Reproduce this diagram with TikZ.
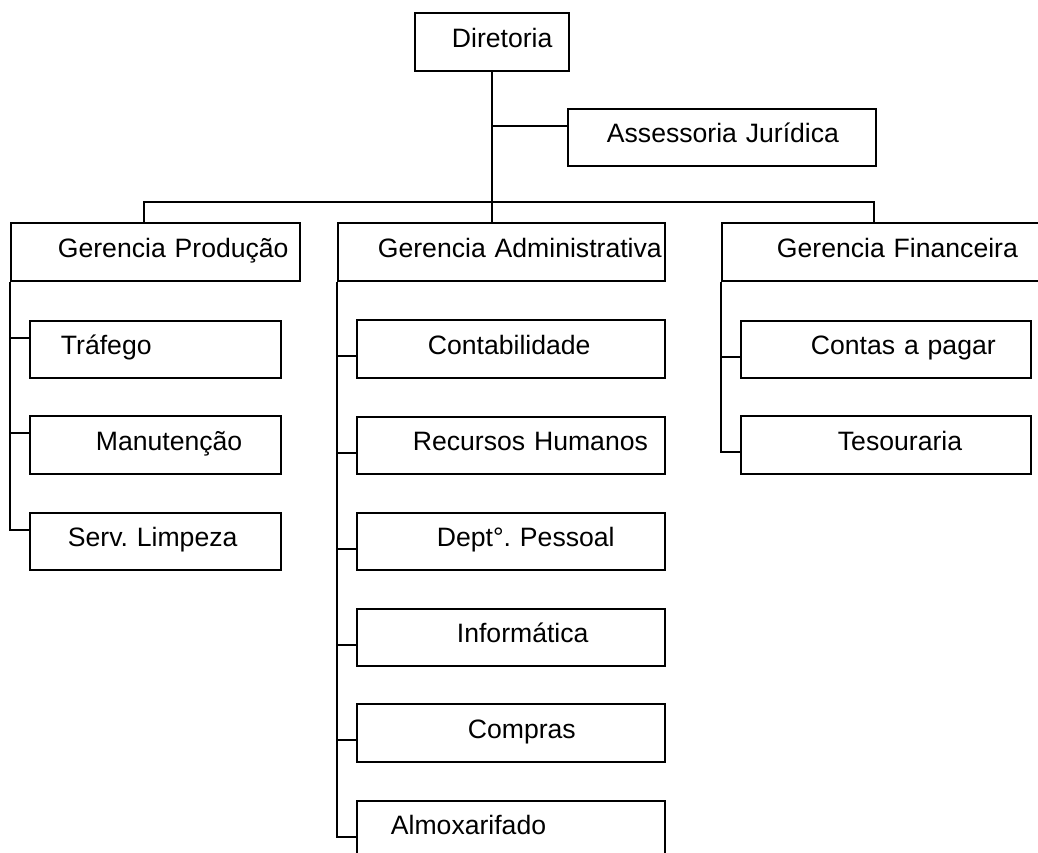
\documentclass[tikz,border=0pt]{standalone}
\usepackage{fontspec}
\setmainfont{Liberation Sans}
\usetikzlibrary{calc}
\frenchspacing

% \orgbox{name}{left}{top}{width}{height}{text indent}{text}
\newcommand\orgbox[7]{%
  \node[unit, minimum width=#4pt, text width=#4pt, minimum height=#5pt]
    (#1) at (#2,#3) {\hspace*{#6pt}#7};}

\begin{document}
\begin{tikzpicture}[x=1pt, y=-1pt,
  unit/.style={draw, line width=1.8pt, rectangle, inner sep=0pt,
    anchor=north west, align=left, text height=20pt, text depth=9pt,
    font=\fontsize{26.6}{30}\selectfont\frenchspacing},
  link/.style={line width=1.8pt}]
  \useasboundingbox (0,0) rectangle (1038,852);

  % top level
  \orgbox{dir}{414}{12}{154}{58}{37}{Diretoria}
  \orgbox{ass}{567}{108}{308}{57}{39}{Assessoria Jurídica}

  % managers
  \orgbox{gp}{10}{222}{289}{58}{47}{Gerencia Produção}
  \orgbox{ga}{337}{222}{327}{58}{40}{Gerencia Administrativa}
  \orgbox{gf}{721}{222}{340}{58}{55}{Gerencia Financeira}

  % production
  \orgbox{traf}{29}{320}{251}{57}{31}{Tráfego}
  \orgbox{manut}{29}{415}{251}{58}{66}{Manutenção}
  \orgbox{serv}{29}{512}{251}{57}{38}{Serv. Limpeza}

  % administration
  \orgbox{cont}{356}{319}{308}{58}{71}{Contabilidade}
  \orgbox{rh}{356}{416}{308}{57}{56}{Recursos Humanos}
  \orgbox{dept}{356}{512}{308}{57}{80}{Dept°. Pessoal}
  \orgbox{info}{356}{608}{308}{57}{100}{Informática}
  \orgbox{comp}{356}{703}{308}{58}{111}{Compras}
  \orgbox{almo}{356}{800}{308}{57}{34}{Almoxarifado}

  % finance
  \orgbox{contas}{740}{320}{290}{57}{70}{Contas a pagar}
  \orgbox{tes}{740}{415}{290}{58}{97}{Tesouraria}

  % bus ends
  \coordinate (busL) at (144,202);
  \coordinate (busR) at (874,202);

  % trunk and staff branch
  \draw[link] (dir.south) -- (dir.south |- ga.north);
  \coordinate (tAss) at ($(ass.north west)+(0,18)$);
  \draw[link] (dir.south |- tAss) -- (tAss);

  % horizontal bus to the managers
  \draw[link] (busL |- gp.north) -- (busL) -- (busR) -- (busR |- gf.north);

  % production spine
  \foreach \n in {traf,manut,serv}
    \coordinate (t\n) at ($(\n.north west)+(0,18)$);
  \draw[link] (gp.south west) |- (tserv);
  \foreach \n in {traf,manut}
    \draw[link] (gp.south west |- t\n) -- (t\n);

  % administration spine
  \foreach \n in {cont,rh,dept,info,comp,almo}
    \coordinate (t\n) at ($(\n.north west)+(0,37)$);
  \draw[link] (ga.south west) |- (talmo);
  \foreach \n in {cont,rh,dept,info,comp}
    \draw[link] (ga.south west |- t\n) -- (t\n);

  % finance spine
  \foreach \n in {contas,tes}
    \coordinate (t\n) at ($(\n.north west)+(0,37)$);
  \draw[link] (gf.south west) |- (ttes);
  \draw[link] (gf.south west |- tcontas) -- (tcontas);
\end{tikzpicture}
\end{document}
